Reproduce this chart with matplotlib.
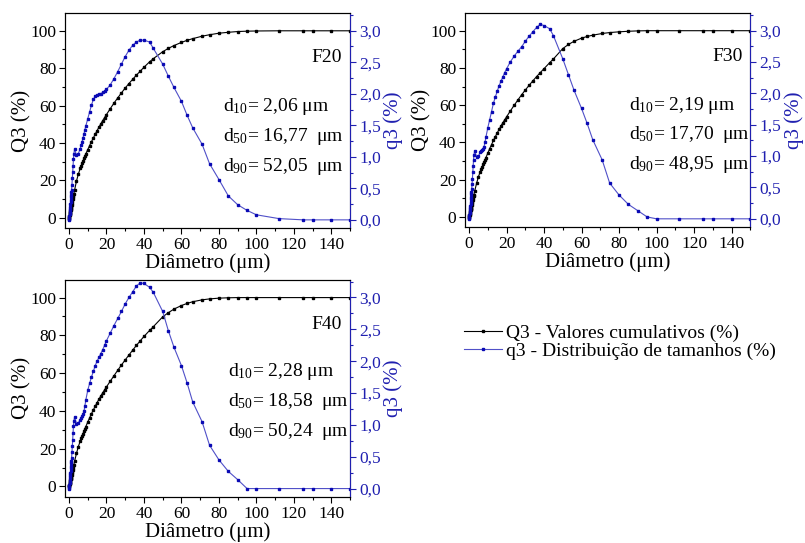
import matplotlib.pyplot as plt
from matplotlib.ticker import MultipleLocator, FuncFormatter

plt.rcParams['font.family'] = 'Liberation Serif'
plt.rcParams['mathtext.fontset'] = 'custom'
plt.rcParams['mathtext.rm'] = 'Liberation Serif'
plt.rcParams['mathtext.it'] = 'Liberation Serif:italic'

# Classes de diametro (um)
diametro = [0.04, 0.07, 0.1, 0.2, 0.3, 0.4, 0.5, 0.6, 0.7, 0.8, 0.9,
            1.0, 1.1, 1.2, 1.3, 1.4, 1.6, 1.8, 2.0, 2.2, 2.4, 2.6,
            3.0, 4.0, 5.0, 6.0, 6.5, 7.0, 7.5, 8.0, 8.5, 9.0,
            10, 11, 12, 13, 14, 15, 16, 17, 18, 19,
            20, 22, 24, 26, 28, 30, 32, 34, 36, 38,
            40, 43, 45, 50, 53, 56, 60, 63, 66, 71,
            75, 80, 85, 90, 95, 100, 112, 125, 130, 140, 150]

# Q3 - valores cumulativos (%)
Q3_f20 = [0.0, 0.1, 0.3, 0.8, 1.3, 1.8, 2.3, 2.8, 3.3, 3.8, 4.3,
          4.8, 5.3, 5.8, 6.3, 6.8, 7.8, 8.9, 9.9, 10.9, 11.9, 12.9,
          14.8, 19.6, 23.3, 26.4, 27.8, 29.2, 30.5, 31.8, 33.0, 34.2,
          36.4, 38.6, 40.7, 42.7, 44.7, 46.6, 48.5, 50.3, 52.0, 53.6,
          55.2, 58.3, 61.3, 64.1, 66.8, 69.4, 71.8, 74.1, 76.3, 78.4,
          80.5, 83.4, 85.1, 88.8, 90.6, 92.1, 93.8, 94.9, 95.8, 97.1,
          97.9, 98.7, 99.2, 99.6, 99.8, 99.9, 100, 100, 100, 100, 100]
Q3_f30 = [0.0, 0.1, 0.2, 0.7, 1.2, 1.7, 2.1, 2.6, 3.0, 3.5, 3.9,
          4.4, 4.9, 5.3, 5.8, 6.2, 7.2, 8.1, 9.1, 10.0, 11.0, 11.9,
          13.7, 17.9, 21.5, 24.3, 25.6, 26.9, 28.2, 29.4, 30.6, 31.8,
          34.2, 36.6, 38.8, 41.0, 43.0, 45.0, 46.9, 48.8, 50.5, 52.1,
          53.7, 56.8, 59.8, 62.7, 65.5, 68.1, 70.6, 73.0, 75.3, 77.5,
          79.6, 82.8, 84.8, 90.4, 92.6, 94.3, 96.0, 96.9, 97.6, 98.5,
          99.0, 99.4, 99.7, 99.9, 100, 100, 100, 100, 100, 100, 100]
Q3_f40 = [0.0, 0.1, 0.2, 0.7, 1.1, 1.6, 2.0, 2.4, 2.9, 3.3, 3.7,
          4.2, 4.6, 5.1, 5.5, 6.0, 6.9, 7.8, 8.7, 9.6, 10.6, 11.5,
          13.3, 17.5, 21.1, 24.0, 25.4, 26.7, 28.0, 29.3, 30.5, 31.7,
          34.1, 36.3, 38.5, 40.5, 42.5, 44.4, 46.2, 48.0, 49.6, 51.2,
          52.7, 55.7, 58.6, 61.5, 64.3, 67.0, 69.6, 72.2, 74.7, 77.1,
          79.4, 82.6, 84.6, 89.8, 92.0, 93.9, 95.8, 96.9, 97.8, 98.8,
          99.3, 99.7, 99.9, 100, 100, 100, 100, 100, 100, 100, 100]

# q3 - distribuicao de tamanhos (%)
q3_f20 = [0.00, 0.01, 0.02, 0.06, 0.09, 0.12, 0.15, 0.18, 0.21, 0.25, 0.28,
          0.32, 0.36, 0.40, 0.44, 0.48, 0.56, 0.66, 0.76, 0.86, 0.96, 1.05,
          1.12, 1.03, 1.05, 1.13, 1.18, 1.24, 1.30, 1.36, 1.43, 1.49,
          1.60, 1.71, 1.82, 1.91, 1.96, 1.98, 1.99, 2.00, 2.02, 2.04,
          2.07, 2.14, 2.24, 2.35, 2.47, 2.59, 2.69, 2.77, 2.82, 2.85,
          2.85, 2.82, 2.72, 2.47, 2.28, 2.10, 1.88, 1.66, 1.46, 1.20,
          0.89, 0.64, 0.38, 0.24, 0.15, 0.08, 0.02, 0.0, 0.0, 0.0, 0.0]
q3_f30 = [0.00, 0.01, 0.02, 0.06, 0.09, 0.12, 0.15, 0.18, 0.21, 0.24, 0.27,
          0.31, 0.35, 0.39, 0.43, 0.47, 0.55, 0.64, 0.74, 0.84, 0.94, 1.02,
          1.08, 0.99, 1.00, 1.06, 1.08, 1.10, 1.12, 1.15, 1.22, 1.30,
          1.45, 1.58, 1.71, 1.84, 1.94, 2.03, 2.12, 2.19, 2.26, 2.33,
          2.39, 2.50, 2.59, 2.67, 2.74, 2.83, 2.91, 2.98, 3.05, 3.10,
          3.08, 3.03, 2.92, 2.55, 2.30, 2.05, 1.76, 1.52, 1.26, 0.94,
          0.57, 0.38, 0.23, 0.13, 0.03, 0.0, 0.0, 0.0, 0.0, 0.0, 0.0]
q3_f40 = [0.00, 0.01, 0.02, 0.06, 0.09, 0.12, 0.15, 0.18, 0.21, 0.25, 0.28,
          0.32, 0.36, 0.40, 0.44, 0.48, 0.57, 0.67, 0.77, 0.88, 0.98, 1.06,
          1.12, 1.02, 1.03, 1.08, 1.11, 1.14, 1.17, 1.21, 1.30, 1.39,
          1.54, 1.65, 1.75, 1.84, 1.93, 2.00, 2.06, 2.12, 2.18, 2.25,
          2.32, 2.44, 2.56, 2.67, 2.78, 2.90, 3.00, 3.09, 3.18, 3.23,
          3.22, 3.16, 3.08, 2.78, 2.48, 2.22, 1.93, 1.66, 1.36, 1.05,
          0.68, 0.45, 0.27, 0.14, 0.0, 0.0, 0.0, 0.0, 0.0, 0.0, 0.0]

amostras = ['F20', 'F30', 'F40']
d10 = ['2,06', '2,19', '2,28']
d50 = ['16,77', '17,70', '18,58']
d90 = ['52,05', '48,95', '50,24']

Q3_todos = [Q3_f20, Q3_f30, Q3_f40]
q3_todos = [q3_f20, q3_f30, q3_f40]

azul = '#2020b0'
posicoes = [[0.081, 0.580, 0.354, 0.396],
            [0.578, 0.582, 0.354, 0.394],
            [0.081, 0.085, 0.354, 0.400]]
pos_texto = [(0.552, [0.563, 0.428, 0.288]),
             (0.573, [0.570, 0.430, 0.290]),
             (0.571, [0.579, 0.441, 0.303])]

fig = plt.figure(figsize=(8.05, 5.43), dpi=100)

for i in range(3):
    ax = fig.add_axes(posicoes[i])
    ax2 = ax.twinx()
    l1, = ax.plot(diametro, Q3_todos[i], color='black', lw=0.8, marker='s',
                  ms=1.5, mfc='black', mec='black')
    l2, = ax2.plot(diametro, q3_todos[i], color='#5050c8', lw=0.8, marker='s',
                   ms=1.5, mfc='#0a0ab4', mec='#0a0ab4')

    ax.set_xlim(-2, 150)
    ax.set_ylim(-5.5, 109.5)
    ax2.set_ylim(-0.13, 3.28)

    ax.xaxis.set_major_locator(MultipleLocator(20))
    ax.xaxis.set_minor_locator(MultipleLocator(10))
    ax.yaxis.set_major_locator(MultipleLocator(20))
    ax.yaxis.set_minor_locator(MultipleLocator(10))
    ax2.yaxis.set_major_locator(MultipleLocator(0.5))
    ax2.yaxis.set_minor_locator(MultipleLocator(0.25))
    ax2.yaxis.set_major_formatter(FuncFormatter(lambda v, p: f'{v:.1f}'.replace('.', ',')))

    ax.tick_params(which='both', direction='out', labelsize=12.5, width=0.8, pad=2.5)
    ax.tick_params(which='major', length=4)
    ax.tick_params(which='minor', length=2.5)
    ax2.tick_params(which='both', direction='out', labelsize=12.5, width=0.8, colors=azul, pad=2.5)
    ax2.tick_params(which='major', length=4)
    ax2.tick_params(which='minor', length=2.5)
    ax2.spines['right'].set_color(azul)
    for s in ax.spines.values():
        s.set_linewidth(0.8)
    ax2.spines['right'].set_linewidth(0.8)

    ax.set_xlabel('Diâmetro (μm)', fontsize=15, labelpad=0)
    ax.set_ylabel('Q3 (%)', fontsize=15, labelpad=-1)
    ax2.set_ylabel('q3 (%)', fontsize=15, color=azul, labelpad=2)

    ax.text(0.972, 0.795, amostras[i], transform=ax.transAxes, ha='right',
            va='center', fontsize=14)
    xt, ys = pos_texto[i]
    ax.text(xt, ys[0], 'd$_{10}$= ' + d10[i] + ' μm', transform=ax.transAxes,
            va='center', fontsize=14)
    ax.text(xt, ys[1], 'd$_{50}$= ' + d50[i] + '  μm', transform=ax.transAxes,
            va='center', fontsize=14)
    ax.text(xt, ys[2], 'd$_{90}$= ' + d90[i] + '  μm', transform=ax.transAxes,
            va='center', fontsize=14)

fig.legend([l1, l2], ['Q3 - Valores cumulativos (%)', 'q3 - Distribuição de tamanhos (%)'],
           loc='center left', bbox_to_anchor=(0.576, 0.370), frameon=False,
           fontsize=14, handlelength=1.95, handletextpad=0.25, labelspacing=0.0,
           borderpad=0, borderaxespad=0, markerscale=1.4)

fig.savefig('out.png', dpi=100)
